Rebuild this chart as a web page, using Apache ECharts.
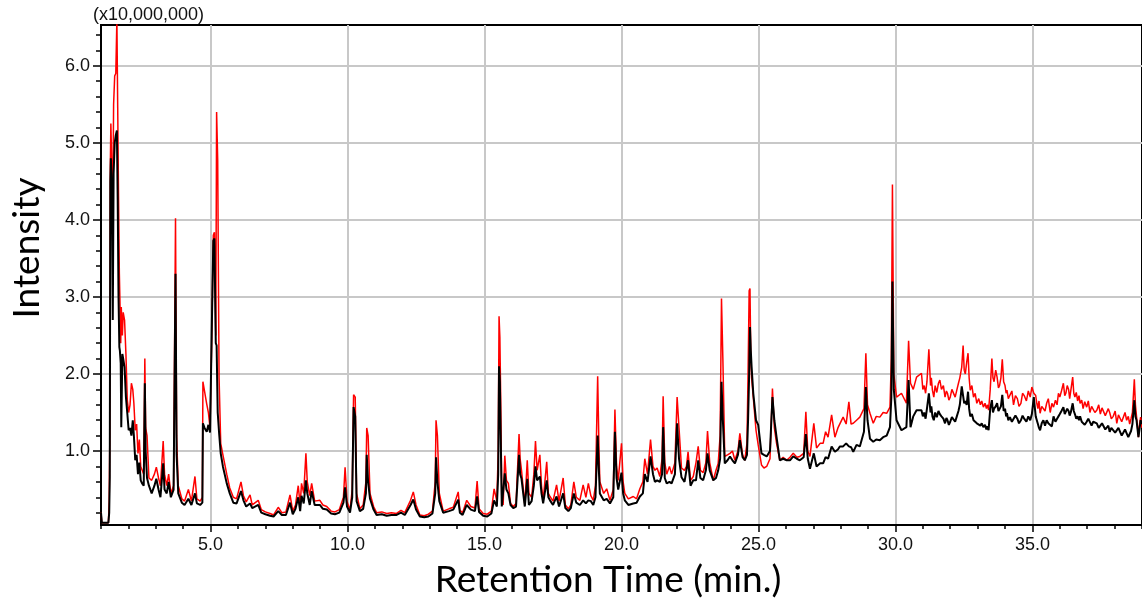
<!DOCTYPE html>
<html>
<head>
<meta charset="UTF-8">
<title>Chromatogram</title>
<script src="https://cdn.jsdelivr.net/npm/echarts@6/dist/echarts.min.js"></script>
<style>
html,body{margin:0;padding:0;background:#fff;}
#chart{width:1142px;height:609px;}
</style>
</head>
<body>
<div id="chart"></div>
<script>
// retention time (min.)
var times = [
  // 1 - 5.4
  1.00,1.03,1.27,1.30,1.32,1.34,1.36,1.40,1.43,1.46,
  1.50,1.54,1.58,1.61,1.64,1.67,1.69,1.72,1.74,1.78,
  1.81,1.86,1.91,1.96,2.01,2.06,2.11,2.16,2.20,2.25,
  2.30,2.35,2.40,2.45,2.50,2.56,2.60,2.63,2.68,2.75,
  2.85,2.95,3.02,3.10,3.17,3.27,3.32,3.40,3.47,3.55,
  3.65,3.72,3.76,3.82,3.95,4.05,4.19,4.30,4.43,4.50,
  4.62,4.70,4.72,4.78,4.86,4.92,4.98,5.04,5.10,5.14,
  5.19,5.22,5.26,5.31,5.37,
  // 5.4 - 14
  5.45,5.59,5.70,5.83,5.95,6.11,6.20,6.30,6.44,6.52,
  6.74,6.85,7.00,7.17,7.30,7.47,7.60,7.75,7.90,8.00,
  8.10,8.20,8.27,8.32,8.40,8.48,8.53,8.62,8.69,8.80,
  8.99,9.10,9.24,9.40,9.54,9.70,9.85,9.91,9.98,10.09,
  10.17,10.22,10.28,10.33,10.45,10.57,10.67,10.70,10.75,10.82,
  10.95,11.06,11.25,11.43,11.60,11.79,11.95,12.09,12.30,12.40,
  12.50,12.64,12.80,12.95,13.10,13.20,13.23,13.28,13.35,13.49,
  13.70,13.86,14.04,
  // 14 - 22.4
  14.10,14.20,14.35,14.50,14.65,14.73,14.80,14.95,15.10,15.25,
  15.35,15.45,15.50,15.53,15.56,15.59,15.63,15.68,15.74,15.80,
  15.87,15.95,16.05,16.15,16.26,16.30,16.35,16.47,16.56,16.62,
  16.72,16.80,16.86,16.92,17.02,17.08,17.14,17.27,17.33,17.39,
  17.50,17.63,17.72,17.87,17.95,18.06,18.15,18.26,18.35,18.48,
  18.60,18.70,18.79,18.88,18.97,19.05,19.13,19.18,19.21,19.35,
  19.46,19.58,19.70,19.76,19.82,19.88,20.00,20.06,20.12,20.25,
  20.43,20.55,20.67,20.78,20.85,20.95,21.06,21.15,21.22,21.30,
  21.40,21.48,21.52,21.58,21.65,21.75,21.83,21.95,22.03,22.10,
  22.19,22.30,22.37,
  // 22.4 - 30.8
  22.43,22.52,22.62,22.72,22.80,22.88,22.98,23.08,23.14,23.22,
  23.35,23.45,23.53,23.60,23.65,23.70,23.77,23.87,23.96,24.05,
  24.14,24.25,24.32,24.42,24.50,24.58,24.62,24.66,24.69,24.72,
  24.75,24.81,24.91,24.99,25.11,25.20,25.30,25.42,25.51,25.58,
  25.66,25.78,25.90,26.03,26.15,26.27,26.40,26.51,26.65,26.73,
  26.80,26.88,27.02,27.12,27.25,27.36,27.45,27.54,27.67,27.79,
  27.90,27.97,28.09,28.20,28.30,28.38,28.46,28.58,28.70,28.85,
  28.92,28.98,29.07,29.19,29.30,29.43,29.55,29.68,29.80,29.85,
  29.89,29.94,30.04,30.22,30.40,30.48,30.55,30.65,30.77,
  // 30.8 - 39
  30.95,31.00,31.05,31.10,31.15,31.22,31.28,31.31,31.35,31.40,
  31.45,31.51,31.57,31.62,31.68,31.75,31.81,31.86,31.90,31.95,
  32.00,32.06,32.12,32.18,32.24,32.30,32.35,32.42,32.47,32.51,
  32.55,32.60,32.65,32.69,32.73,32.79,32.85,32.91,32.97,33.04,
  33.10,33.15,33.21,33.27,33.32,33.36,33.40,33.46,33.52,33.56,
  33.60,33.66,33.71,33.76,33.80,33.85,33.90,33.95,34.00,34.04,
  34.07,34.12,34.18,34.25,34.31,34.38,34.45,34.51,34.58,34.64,
  34.70,34.78,34.85,34.92,34.98,35.05,35.12,35.16,35.20,35.24,
  35.28,35.34,35.40,35.46,35.52,35.58,35.65,35.71,35.77,35.84,
  35.90,35.95,36.00,36.06,36.13,36.18,36.22,36.27,36.32,36.36,
  36.40,36.47,36.51,36.55,36.60,36.65,36.70,36.74,36.80,36.85,
  36.91,36.98,37.04,37.10,37.16,37.22,37.28,37.35,37.42,37.48,
  37.54,37.60,37.66,37.71,37.77,37.82,37.88,37.95,38.02,38.08,
  38.14,38.20,38.26,38.32,38.38,38.44,38.50,38.55,38.60,38.65,
  38.72,38.76,38.80,38.87,38.91,38.95,39.00
];

// intensity (x10,000,000), red trace
var redVals = [
  0.20,0.07,0.07,0.35,1.10,4.70,5.25,4.60,4.10,5.50,
  5.87,5.90,6.60,5.46,4.30,3.30,2.97,2.40,2.87,2.50,
  2.80,2.70,2.26,1.66,1.50,1.60,1.88,1.80,1.62,1.27,
  1.35,0.97,1.15,0.80,0.78,0.70,2.20,1.30,1.20,0.65,
  0.62,0.70,0.79,0.65,0.55,1.13,0.70,0.55,0.70,0.45,
  0.55,4.02,1.20,0.55,0.38,0.35,0.50,0.35,0.67,0.38,
  0.35,0.40,1.90,1.88,1.61,1.50,1.30,2.40,3.80,3.84,
  2.50,5.40,4.77,1.95,1.10,

  0.95,0.70,0.52,0.40,0.38,0.60,0.42,0.34,0.43,0.30,
  0.36,0.24,0.21,0.19,0.17,0.27,0.20,0.21,0.43,0.22,
  0.30,0.55,0.30,0.58,0.45,0.97,0.60,0.42,0.58,0.35,
  0.36,0.30,0.28,0.22,0.21,0.24,0.40,0.79,0.35,0.23,
  0.50,1.73,1.70,0.45,0.25,0.30,0.60,1.30,1.20,0.45,
  0.28,0.20,0.21,0.19,0.20,0.19,0.23,0.20,0.36,0.47,
  0.30,0.17,0.16,0.18,0.22,0.60,1.40,1.20,0.45,0.22,
  0.25,0.27,0.47,

  0.23,0.20,0.36,0.28,0.26,0.61,0.25,0.19,0.18,0.22,
  0.51,0.35,1.00,2.75,2.48,1.70,0.35,0.30,0.94,0.62,
  0.58,0.32,0.28,0.32,1.22,0.90,0.75,0.30,0.88,0.45,
  0.40,0.70,1.13,0.75,0.95,0.55,0.36,0.86,0.45,0.41,
  0.35,0.56,0.35,0.65,0.30,0.25,0.30,0.60,0.40,0.36,
  0.56,0.40,0.58,0.42,0.36,0.55,1.97,1.00,0.60,0.45,
  0.51,0.36,0.50,1.54,0.80,0.62,1.10,0.60,0.45,0.38,
  0.41,0.38,0.51,0.60,0.90,0.70,1.15,0.80,0.75,0.78,
  0.67,0.90,1.71,0.85,0.70,0.80,0.70,0.85,1.70,1.30,
  0.78,0.75,0.80,

  0.99,0.62,0.67,0.85,1.06,0.75,0.72,0.85,1.26,0.85,
  0.62,0.75,0.84,1.20,2.98,2.20,0.93,0.95,0.97,1.00,
  0.88,1.00,1.23,0.95,0.88,1.10,2.01,3.08,3.11,2.20,
  1.95,1.70,1.27,1.08,0.82,0.78,0.80,0.90,1.81,1.30,
  1.10,0.88,0.92,0.88,0.92,0.97,0.92,0.93,0.97,1.51,
  1.00,0.93,1.36,1.04,1.10,1.10,1.25,1.18,1.47,1.18,
  1.30,1.31,1.44,1.35,1.64,1.35,1.36,1.40,1.44,1.55,
  2.27,1.60,1.49,1.36,1.45,1.44,1.50,1.49,1.57,2.20,
  4.46,2.00,1.70,1.75,1.62,2.43,1.88,1.80,1.96,

  2.01,1.80,1.85,1.75,1.90,2.32,1.85,1.95,1.79,1.70,
  1.85,1.76,1.88,1.92,1.80,1.85,1.70,1.78,1.75,1.66,
  1.70,1.80,1.78,1.70,1.79,1.88,1.95,2.09,2.37,2.05,
  2.00,2.15,2.27,1.95,1.79,1.85,1.70,1.75,1.62,1.68,
  1.60,1.65,1.57,1.62,1.55,1.60,1.53,1.80,2.20,1.95,
  1.90,2.05,1.96,1.82,1.85,1.95,2.19,1.90,1.85,1.75,
  1.79,1.68,1.70,1.78,1.60,1.72,1.68,1.58,1.62,1.75,
  1.72,1.65,1.78,1.70,1.83,1.75,1.72,1.62,1.55,1.65,
  1.49,1.58,1.60,1.52,1.62,1.68,1.50,1.62,1.57,1.66,
  1.60,1.75,1.70,1.78,1.88,1.72,1.75,1.85,1.80,1.68,
  1.70,1.96,1.75,1.70,1.76,1.65,1.72,1.62,1.66,1.55,
  1.64,1.57,1.65,1.50,1.58,1.60,1.50,1.53,1.60,1.48,
  1.56,1.55,1.46,1.44,1.55,1.50,1.42,1.45,1.52,1.36,
  1.47,1.48,1.38,1.40,1.50,1.40,1.45,1.35,1.42,1.50,
  1.93,1.60,1.45,1.18,1.35,1.44,1.30
];

// intensity (x10,000,000), black trace
var blackVals = [
  0.20,0.07,0.07,0.20,0.65,4.50,4.80,4.40,2.70,4.60,
  5.00,5.10,5.16,4.26,3.00,2.35,2.30,2.14,1.31,2.26,
  2.20,2.09,1.70,1.49,1.27,1.30,1.20,1.40,1.20,0.88,
  0.95,0.70,0.85,0.62,0.58,0.55,1.88,1.00,0.65,0.55,
  0.45,0.55,0.64,0.50,0.40,0.84,0.50,0.45,0.60,0.40,
  0.50,3.30,0.95,0.45,0.33,0.30,0.38,0.30,0.45,0.32,
  0.30,0.33,1.36,1.30,1.25,1.34,1.24,2.50,3.73,3.76,
  2.40,2.37,1.50,1.24,0.97,

  0.80,0.58,0.45,0.33,0.32,0.48,0.36,0.28,0.32,0.26,
  0.30,0.20,0.18,0.16,0.15,0.22,0.17,0.17,0.33,0.18,
  0.25,0.40,0.22,0.42,0.32,0.62,0.45,0.30,0.48,0.30,
  0.30,0.25,0.24,0.19,0.18,0.20,0.33,0.53,0.28,0.20,
  0.40,1.57,1.45,0.35,0.22,0.25,0.45,0.95,0.60,0.38,
  0.24,0.17,0.18,0.16,0.17,0.17,0.20,0.17,0.30,0.37,
  0.24,0.15,0.14,0.15,0.19,0.45,0.92,0.60,0.35,0.20,
  0.22,0.24,0.37,

  0.20,0.17,0.30,0.24,0.22,0.41,0.21,0.16,0.15,0.19,
  0.36,0.28,0.70,2.10,1.90,1.20,0.28,0.26,0.71,0.50,
  0.45,0.30,0.26,0.28,0.95,0.70,0.64,0.28,0.64,0.30,
  0.35,0.55,0.80,0.62,0.67,0.45,0.32,0.62,0.40,0.36,
  0.30,0.41,0.28,0.45,0.26,0.22,0.26,0.45,0.33,0.30,
  0.36,0.32,0.36,0.35,0.30,0.40,1.20,0.70,0.45,0.36,
  0.38,0.32,0.40,1.25,0.65,0.50,0.72,0.45,0.36,0.30,
  0.32,0.33,0.41,0.45,0.70,0.60,0.93,0.70,0.60,0.62,
  0.60,0.70,1.31,0.65,0.58,0.60,0.58,0.70,1.36,0.90,
  0.66,0.60,0.62,

  0.88,0.55,0.62,0.62,0.88,0.65,0.62,0.75,0.97,0.75,
  0.62,0.65,0.75,0.90,1.90,1.40,0.84,0.88,0.93,0.88,
  0.84,0.95,1.14,0.92,0.88,0.95,1.40,2.00,2.61,2.30,
  2.09,1.75,1.40,1.34,0.97,0.95,0.93,1.00,1.70,1.40,
  1.18,0.88,0.90,0.88,0.88,0.93,0.90,0.88,0.92,1.22,
  0.90,0.77,0.97,0.80,0.84,0.84,0.92,0.90,1.06,0.99,
  1.02,1.06,1.06,1.10,1.06,1.05,0.99,1.08,1.06,1.25,
  1.83,1.40,1.16,1.12,1.15,1.14,1.18,1.20,1.31,1.70,
  3.20,1.80,1.40,1.27,1.31,1.92,1.31,1.45,1.53,

  1.53,1.45,1.50,1.42,1.55,1.75,1.50,1.58,1.45,1.40,
  1.50,1.44,1.52,1.48,1.45,1.42,1.36,1.43,1.40,1.34,
  1.38,1.44,1.42,1.38,1.45,1.52,1.60,1.84,1.86,1.62,
  1.65,1.60,1.77,1.55,1.45,1.48,1.40,1.42,1.36,1.38,
  1.33,1.36,1.31,1.34,1.28,1.32,1.27,1.55,1.66,1.50,
  1.55,1.58,1.62,1.52,1.50,1.58,1.73,1.52,1.55,1.45,
  1.49,1.40,1.44,1.38,1.40,1.46,1.42,1.36,1.40,1.46,
  1.42,1.38,1.45,1.40,1.48,1.70,1.45,1.40,1.35,1.30,
  1.27,1.36,1.40,1.33,1.40,1.36,1.38,1.32,1.45,1.38,
  1.42,1.45,1.48,1.52,1.57,1.48,1.50,1.55,1.52,1.46,
  1.50,1.62,1.52,1.48,1.42,1.45,1.40,1.45,1.38,1.40,
  1.34,1.38,1.42,1.40,1.33,1.38,1.40,1.36,1.30,1.30,
  1.36,1.35,1.28,1.27,1.33,1.25,1.30,1.30,1.24,1.23,
  1.30,1.25,1.20,1.22,1.28,1.23,1.18,1.20,1.26,1.35,
  1.66,1.45,1.40,1.18,1.28,1.40,1.35
];

// axis ticks
var xMajor = [5, 10, 15, 20, 25, 30, 35];
var yMajor = [1, 2, 3, 4, 5, 6];
var yMinor = [0.2,0.4,0.6,0.8,1.0,1.2,1.4,1.6,1.8,2.0,2.2,2.4,2.6,2.8,3.0,3.2,
              3.4,3.6,3.8,4.0,4.2,4.4,4.6,4.8,5.0,5.2,5.4,5.6,5.8,6.0,6.2,6.4];

var redData = times.map(function (t, i) { return [t, redVals[i]]; });
var blackData = times.map(function (t, i) { return [t, blackVals[i]]; });

var tickFont = 'Liberation Sans, Arial, sans-serif';
var titleFont = 'Lato, Calibri, sans-serif';

var chart = echarts.init(document.getElementById('chart'));
var option = {
  animation: false,
  backgroundColor: '#fff',
  grid: {
    left: 101, right: 0, top: 25, bottom: 84,
    show: true, borderColor: '#000', borderWidth: 2, backgroundColor: '#fff'
  },
  xAxis: [{
    type: 'value', min: 1, max: 39, interval: 1,
    axisLine: { onZero: false, lineStyle: { color: '#000', width: 2 } },
    axisTick: { length: 4, lineStyle: { color: '#000', width: 1.5 } },
    axisLabel: { show: false },
    splitLine: { show: false }
  }, {
    type: 'value', min: 1, max: 39, position: 'bottom',
    axisLine: { show: false, onZero: false },
    axisTick: { customValues: xMajor, length: 7, lineStyle: { color: '#000', width: 1.5 } },
    axisLabel: {
      customValues: xMajor, margin: 11, fontSize: 18, fontFamily: tickFont, color: '#111',
      formatter: function (v) { return v.toFixed(1); }
    },
    splitLine: { show: true, lineStyle: { color: '#c8c8c8', width: 2 } }
  }],
  yAxis: [{
    type: 'value', min: 0.04, max: 6.53,
    axisLine: { show: true, onZero: false, lineStyle: { color: '#000', width: 2 } },
    axisTick: { customValues: yMinor, length: 5, lineStyle: { color: '#000', width: 1.5 } },
    axisLabel: { show: false },
    splitLine: { show: false }
  }, {
    type: 'value', min: 0.04, max: 6.53, position: 'left',
    axisLine: { show: false, onZero: false },
    axisTick: { customValues: yMajor, length: 8, lineStyle: { color: '#000', width: 1.5 } },
    axisLabel: {
      customValues: yMajor, margin: 11, fontSize: 18, fontFamily: tickFont, color: '#111',
      formatter: function (v) { return v.toFixed(1); }
    },
    splitLine: { show: true, lineStyle: { color: '#c8c8c8', width: 2 } }
  }],
  graphic: [{
    type: 'text', left: 93, top: 6,
    style: { text: '(x10,000,000)', fontSize: 18, fontFamily: tickFont, fill: '#111' }
  }, {
    type: 'text', x: 27, y: 248, rotation: Math.PI / 2,
    style: { text: 'Intensity', fontSize: 37, fontFamily: titleFont, fill: '#000',
             align: 'center', verticalAlign: 'middle' }
  }, {
    type: 'text', x: 608, y: 580,
    style: { text: 'Retention Time (min.)', fontSize: 37, fontFamily: titleFont, fill: '#000',
             align: 'center', verticalAlign: 'middle' }
  }],
  series: [{
    name: 'red', type: 'line', xAxisIndex: 0, yAxisIndex: 0,
    data: redData, symbol: 'none', z: 3,
    lineStyle: { color: '#ff0000', width: 1.5 }
  }, {
    name: 'black', type: 'line', xAxisIndex: 0, yAxisIndex: 0,
    data: blackData, symbol: 'none', z: 4,
    lineStyle: { color: '#000000', width: 2 }
  }]
};
chart.setOption(option);
</script>
</body>
</html>
